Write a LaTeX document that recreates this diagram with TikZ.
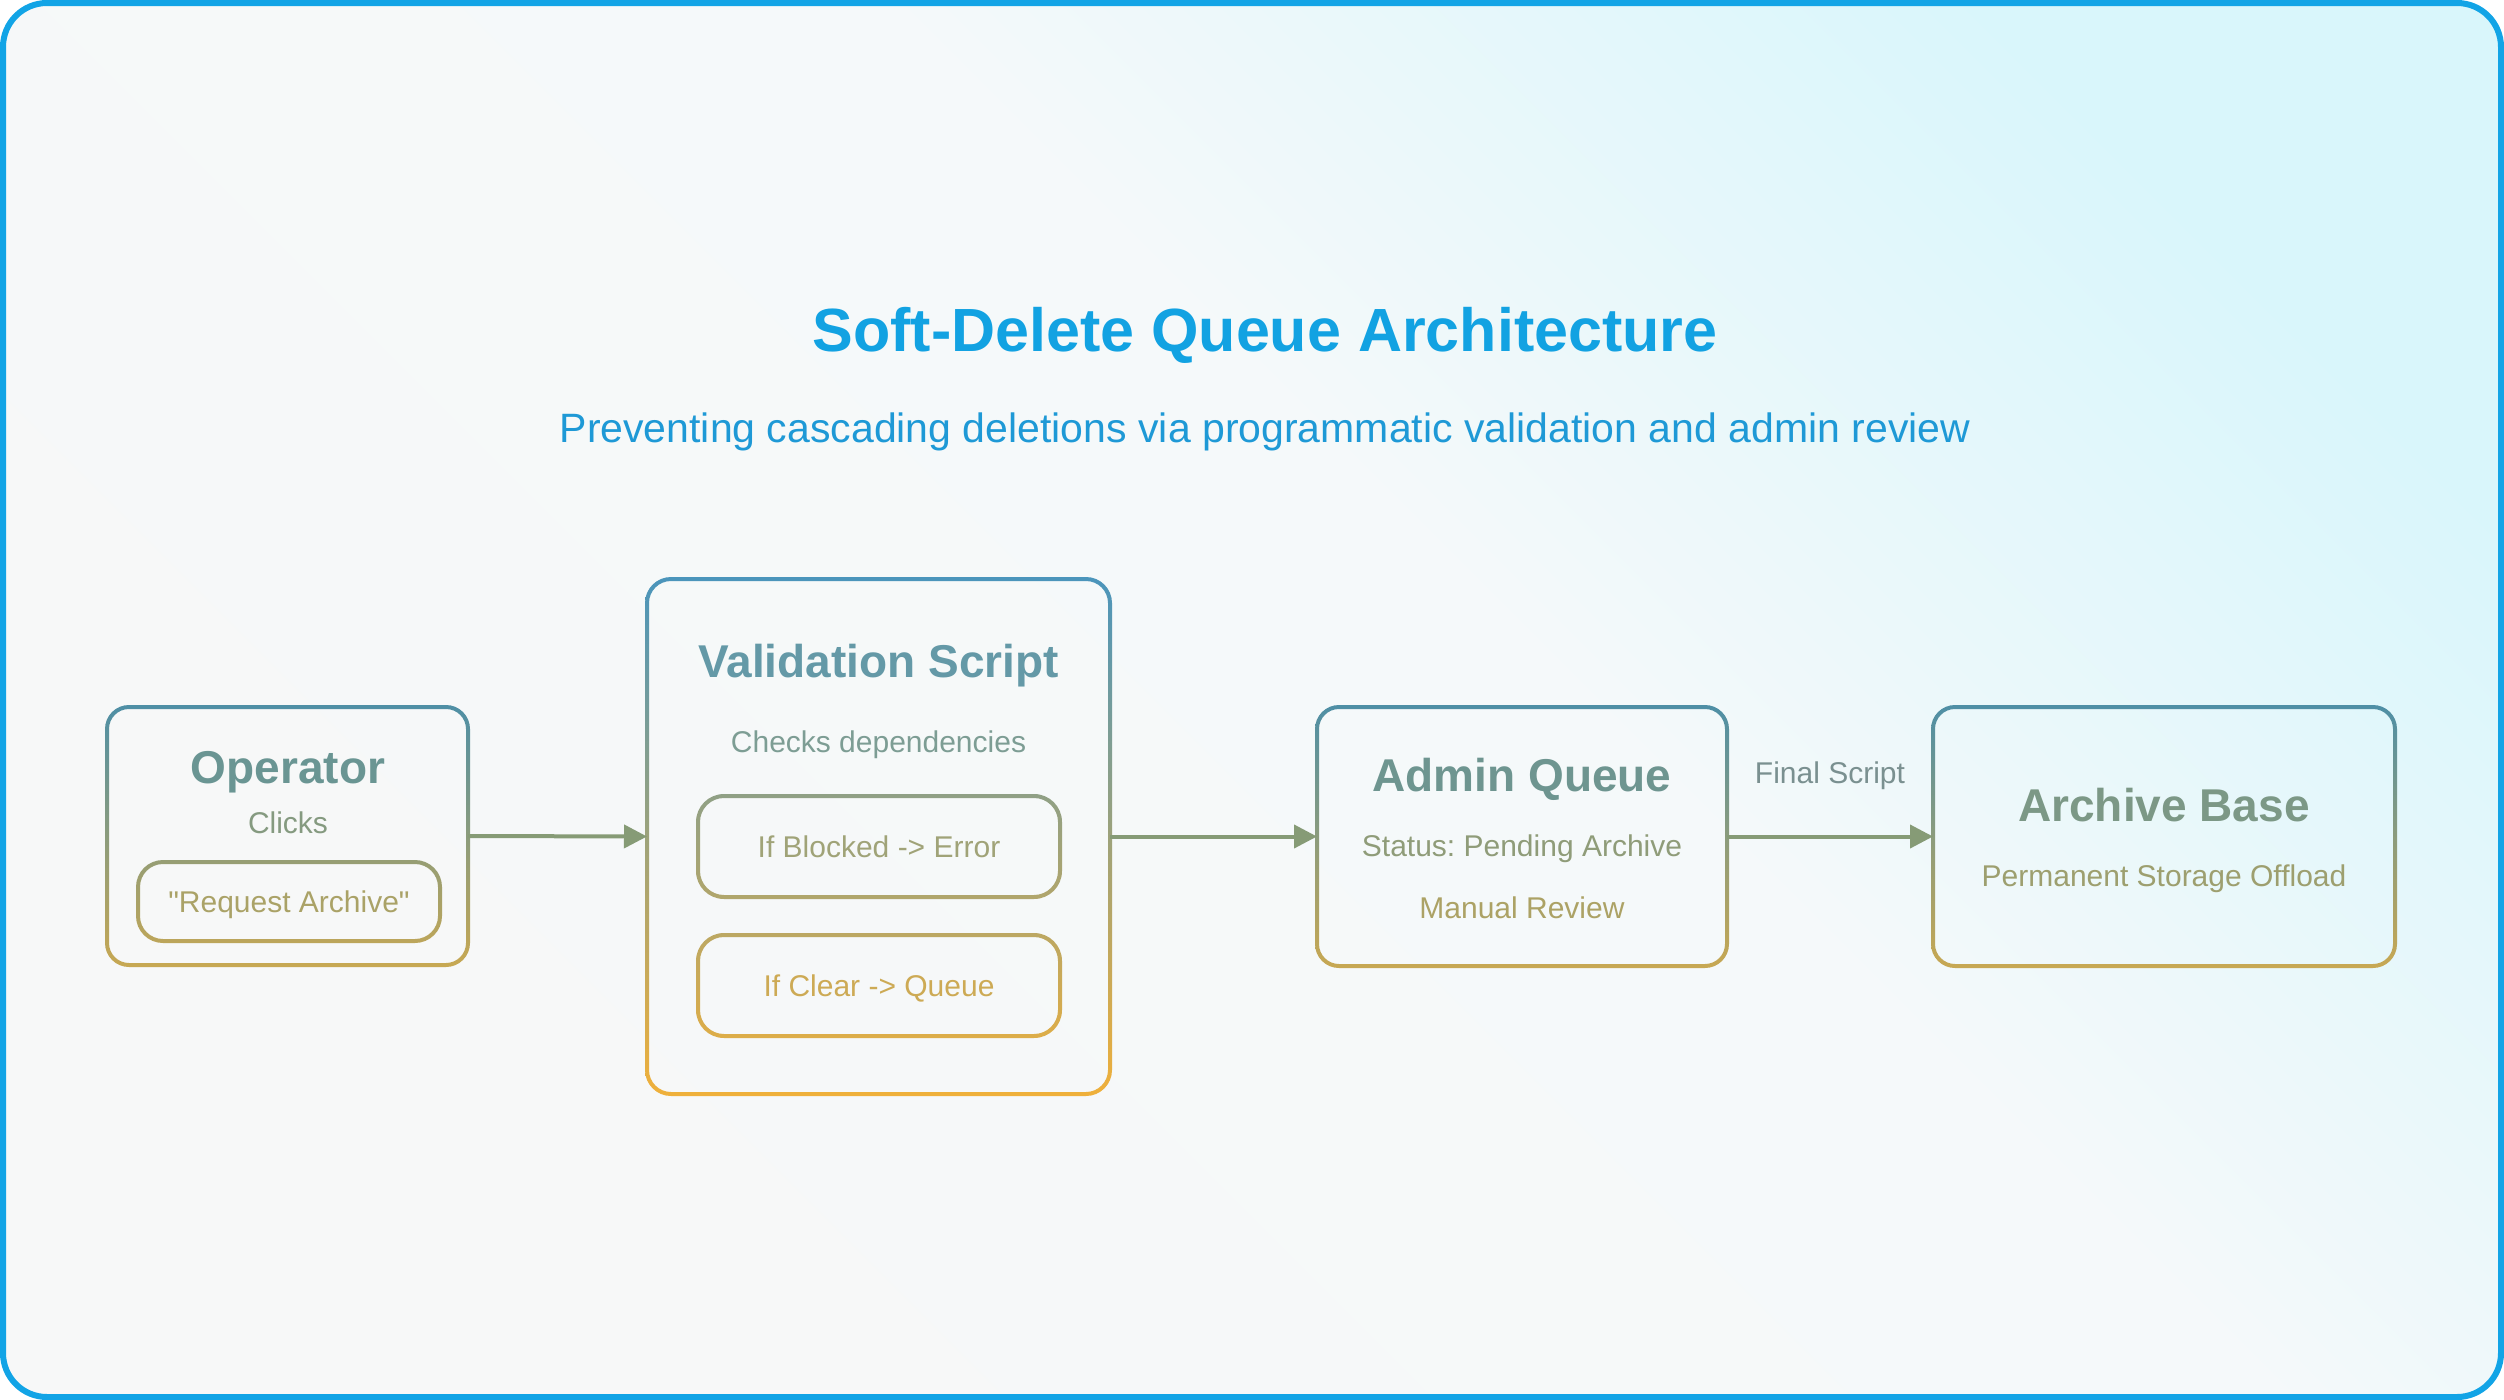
\documentclass[tikz,border=0pt]{standalone}
\usepackage{fontspec}
\setmainfont{Liberation Sans}[Ligatures=TeXOff]
\usetikzlibrary{calc,arrows.meta,shadings}
\frenchspacing

\definecolor{frameblue}{HTML}{12A4E6}
\definecolor{titleblue}{HTML}{12A2E2}
\definecolor{subblue}{HTML}{1E99D6}
\definecolor{bgLL}{HTML}{F7F8F8}
\definecolor{bgMid}{HTML}{F5F9FA}
\definecolor{bgUR}{HTML}{D9F6FB}
\definecolor{nodetop}{HTML}{4E8FA6}
\definecolor{nodebot}{HTML}{C8A852}
\definecolor{valtop}{HTML}{4A95BC}
\definecolor{valbot}{HTML}{F0B03A}
\definecolor{flow}{HTML}{869B76}
\definecolor{labelgrey}{HTML}{7A9090}

% diagonal page wash: near white towards the lower left, pale cyan at the upper right
\pgfdeclarehorizontalshading{pagewash}{100bp}{color(0bp)=(bgLL); color(25bp)=(bgLL); color(56bp)=(bgMid); color(76bp)=(bgUR); color(100bp)=(bgUR)}

% ring between two rounded rectangles around a node (for even-odd clipping)
\newcommand{\ringpath}[3]{[rounded corners=#2] ($(#1.north west)+(-2,-2)$) rectangle ($(#1.south east)+(2,2)$) [rounded corners=#3] ($(#1.north west)+(2,2)$) rectangle ($(#1.south east)+(-2,-2)$)}
% vertical gradient spanning a node's outline
\newcommand{\gradfill}[3]{\shade[top color=#2, bottom color=#3] ($(#1.north west)+(-3,-3)$) rectangle ($(#1.south east)+(3,3)$);}

\tikzset{
  box/.style={rectangle, inner sep=0pt, outer sep=0pt},
  ttl/.style={font=\fontsize{46}{50}\selectfont\bfseries, anchor=base, inner sep=0pt},
  txt/.style={font=\fontsize{30}{34}\selectfont, anchor=base, inner sep=0pt},
  flowarrow/.style={draw=flow, line width=4pt, -{Triangle[length=23pt,width=23pt]}},
}

\begin{document}
\begin{tikzpicture}[x=1pt,y=-1pt]
\useasboundingbox (0,0) rectangle (2504,1400);

% page background and frame
\fill[white] (0,0) rectangle (2504,1400);
\shade[shading=pagewash, shading angle=45, rounded corners=44pt] (3,3) rectangle (2501,1397);
\draw[frameblue, line width=6pt, rounded corners=44pt] (3,3) rectangle (2501,1397);

% headings
\node[font=\fontsize{61}{66}\selectfont\bfseries, text=titleblue, anchor=base, inner sep=0pt]
  (title) at (1265,351) {Soft-Delete Queue Architecture};
\node[font=\fontsize{41}{46}\selectfont, text=subblue, anchor=base, inner sep=0pt]
  (subtitle) at (1265,442) {Preventing cascading deletions via programmatic validation and admin review};

% box outlines (placement)
\node[box, minimum width=361pt, minimum height=258pt] (op) at (287.5,836) {};
\node[box, minimum width=302pt, minimum height=79pt] (opreq) at (289,901.5) {};
\node[box, minimum width=463pt, minimum height=515pt] (val) at (878.5,836.5) {};
\node[box, minimum width=362pt, minimum height=101pt] (valblk) at (879,846.5) {};
\node[box, minimum width=362pt, minimum height=101pt] (valclr) at (879,985.5) {};
\node[box, minimum width=410pt, minimum height=259pt] (adm) at (1522,836.5) {};
\node[box, minimum width=462pt, minimum height=259pt] (arc) at (2164,836.5) {};

% gradient strokes
\begin{scope}[even odd rule]
  \clip \ringpath{op}{24pt}{20pt} \ringpath{opreq}{27pt}{23pt};
  \gradfill{op}{nodetop}{nodebot}
\end{scope}
\begin{scope}[even odd rule]
  \clip \ringpath{val}{26pt}{22pt} \ringpath{valblk}{28pt}{24pt} \ringpath{valclr}{28pt}{24pt};
  \gradfill{val}{valtop}{valbot}
\end{scope}
\begin{scope}[even odd rule]
  \clip \ringpath{adm}{24pt}{20pt};
  \gradfill{adm}{nodetop}{nodebot}
\end{scope}
\begin{scope}[even odd rule]
  \clip \ringpath{arc}{24pt}{20pt};
  \gradfill{arc}{nodetop}{nodebot}
\end{scope}

% Operator
\node[ttl, text=nodetop!77!nodebot] (opT) at (288,783.5) {Operator};
\node[txt, text=nodetop!55!nodebot] (opS) at (288,833) {Clicks};
\node[txt, text=nodetop!25!nodebot] (opR) at (289,912) {"Request Archive"};

% Validation Script
\node[ttl, text=valtop!84!valbot] (valT) at (878.5,677.5) {Validation Script};
\node[txt, text=valtop!69!valbot] (valS) at (878.5,752) {Checks dependencies};
\node[txt, text=valtop!48!valbot] (valB) at (879,857) {If Blocked -> Error};
\node[txt, text=valtop!21!valbot] (valC) at (879,996) {If Clear -> Queue};

% Admin Queue
\node[ttl, text=nodetop!74!nodebot] (admT) at (1522,791.5) {Admin Queue};
\node[txt, text=nodetop!47!nodebot] (admS) at (1522,856) {Status: Pending Archive};
\node[txt, text=nodetop!23!nodebot] (admM) at (1522,918) {Manual Review};

% Archive Base
\node[ttl, text=nodetop!62!nodebot] (arcT) at (2164,821.5) {Archive Base};
\node[txt, text=nodetop!35!nodebot] (arcS) at (2164,886) {Permanent Storage Offload};

% flow
\draw[flowarrow] (op.east) -- (val.west);
\draw[flowarrow] (val.east) -- (adm.west);
\draw[flowarrow] (adm.east) -- node[txt, midway, yshift=53pt, text=labelgrey] (lblfinal) {Final Script} (arc.west);
\end{tikzpicture}
\end{document}
